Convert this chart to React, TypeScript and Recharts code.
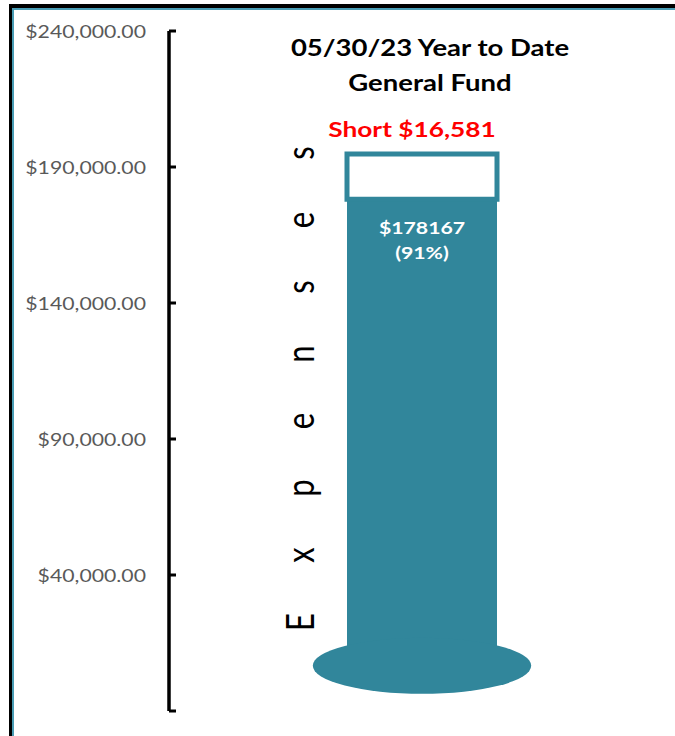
import React from 'react';
import { BarChart, Bar, XAxis, YAxis, LabelList, Customized } from 'recharts';

const categories = ['General Fund'];
const actualExpenses = [178167];
const shortAmounts = [16581];
const yTicks = [-10000, 40000, 90000, 140000, 190000, 240000];
const titleLines = ['05/30/23 Year to Date', 'General Fund'];
const axisTitle = 'Expenses';

const data = categories.map((name, i) => ({
  name,
  actual: actualExpenses[i],
  short: shortAmounts[i],
}));

const TEAL = '#31869B';
const FONT = 'Lato';
const SX = 1.25;

type STProps = {
  x: number;
  y: number;
  size: number;
  weight?: string | number;
  fill?: string;
  anchor?: 'start' | 'middle' | 'end';
  children: React.ReactNode;
};

const StretchText = ({ x, y, size, weight = 'normal', fill = '#000', anchor = 'middle', children }: STProps) => (
  <text
    transform={`translate(${x},${y}) scale(${SX},1)`}
    textAnchor={anchor}
    dominantBaseline="central"
    fontFamily={FONT}
    fontSize={size}
    fontWeight={weight}
    fill={fill}
  >
    {children}
  </text>
);

const fmtMoney = (v: number) =>
  '$' + v.toLocaleString('en-US', { minimumFractionDigits: 2, maximumFractionDigits: 2 });

const AxisTick = (props: any) => {
  const { x, y, payload } = props;
  return (
    <g>
      <line x1={x} x2={x + 7} y1={y} y2={y} stroke="#000" strokeWidth={3} />
      {payload.value >= 0 && (
        <StretchText x={x - 23} y={y} size={17} fill="#595959" anchor="end">
          {fmtMoney(payload.value)}
        </StretchText>
      )}
    </g>
  );
};

const BulbShape = (props: any) => {
  const { x, y, width, height, fill } = props;
  const bottom = y + height;
  return (
    <g>
      <rect x={x} y={y} width={width} height={height} fill={fill} />
      <ellipse cx={x + width / 2} cy={bottom - 18} rx={width * 0.728} ry={28} fill={fill} />
    </g>
  );
};

const ActualLabel = (props: any) => {
  const { x, y, width, index } = props;
  const total = actualExpenses[index] + shortAmounts[index];
  const pct = Math.round((actualExpenses[index] / total) * 100);
  const cx = x + width / 2;
  return (
    <g>
      <StretchText x={cx} y={y + 28} size={17} weight="bold" fill="#fff">
        {`$${actualExpenses[index]}`}
      </StretchText>
      <StretchText x={cx} y={y + 53} size={17} weight="bold" fill="#fff">
        {`(${pct}%)`}
      </StretchText>
    </g>
  );
};

const ShortLabel = (props: any) => {
  const { x, y, width, index } = props;
  const cx = x + width / 2 - 10;
  return (
    <StretchText x={cx} y={y - 25} size={21} weight="bold" fill="#FF0000">
      {`Short $${shortAmounts[index].toLocaleString('en-US')}`}
    </StretchText>
  );
};

const Decorations = () => {
  const letters = axisTitle.split('');
  return (
    <g>
      <StretchText x={430} y={47} size={22} weight="bold">
        {titleLines[0]}
      </StretchText>
      <StretchText x={430} y={82} size={22} weight="bold">
        {titleLines[1]}
      </StretchText>
      {letters.map((ch, i) => (
        <text
          key={i}
          transform={`translate(314,${622 - i * 67}) scale(${SX},1) rotate(-90)`}
          textAnchor="middle"
          fontFamily={FONT}
          fontSize={31}
          fill="#000"
        >
          {ch}
        </text>
      ))}
    </g>
  );
};

export default function App() {
  return (
    <div
      style={{
        position: 'absolute',
        left: 0,
        top: 0,
        width: 675,
        height: 736,
        background: '#fff',
        overflow: 'hidden',
      }}
    >
      <div
        style={{
          position: 'absolute',
          left: 9,
          top: 4,
          width: 700,
          height: 760,
          borderTop: '4px solid #000',
          borderLeft: '3px solid #000',
          boxSizing: 'border-box',
        }}
      >
        <div
          style={{
            width: '100%',
            height: '100%',
            borderTop: '2px solid #4A9DB5',
            borderLeft: '2px solid #4A9DB5',
            boxSizing: 'border-box',
          }}
        />
      </div>
      <div style={{ position: 'absolute', left: 0, top: 0 }}>
        <BarChart
          width={675}
          height={736}
          data={data}
          margin={{ top: 31, right: 0, bottom: 25, left: 0 }}
        >
          <XAxis dataKey="name" hide />
          <YAxis
            width={169}
            domain={[-10000, 240000]}
            ticks={yTicks}
            interval={0}
            tickSize={0}
            tickMargin={0}
            tickLine={false}
            allowDataOverflow
            axisLine={{ stroke: '#000', strokeWidth: 3.5 }}
            tick={<AxisTick />}
          />
          <Bar
            dataKey="actual"
            stackId="a"
            fill={TEAL}
            barSize={150}
            shape={<BulbShape />}
            isAnimationActive={false}
          >
            <LabelList dataKey="actual" content={<ActualLabel />} />
          </Bar>
          <Bar
            dataKey="short"
            stackId="a"
            fill="#FFFFFF"
            stroke={TEAL}
            strokeWidth={5}
            barSize={150}
            isAnimationActive={false}
          >
            <LabelList dataKey="short" content={<ShortLabel />} />
          </Bar>
          <Customized component={Decorations} />
        </BarChart>
      </div>
    </div>
  );
}
